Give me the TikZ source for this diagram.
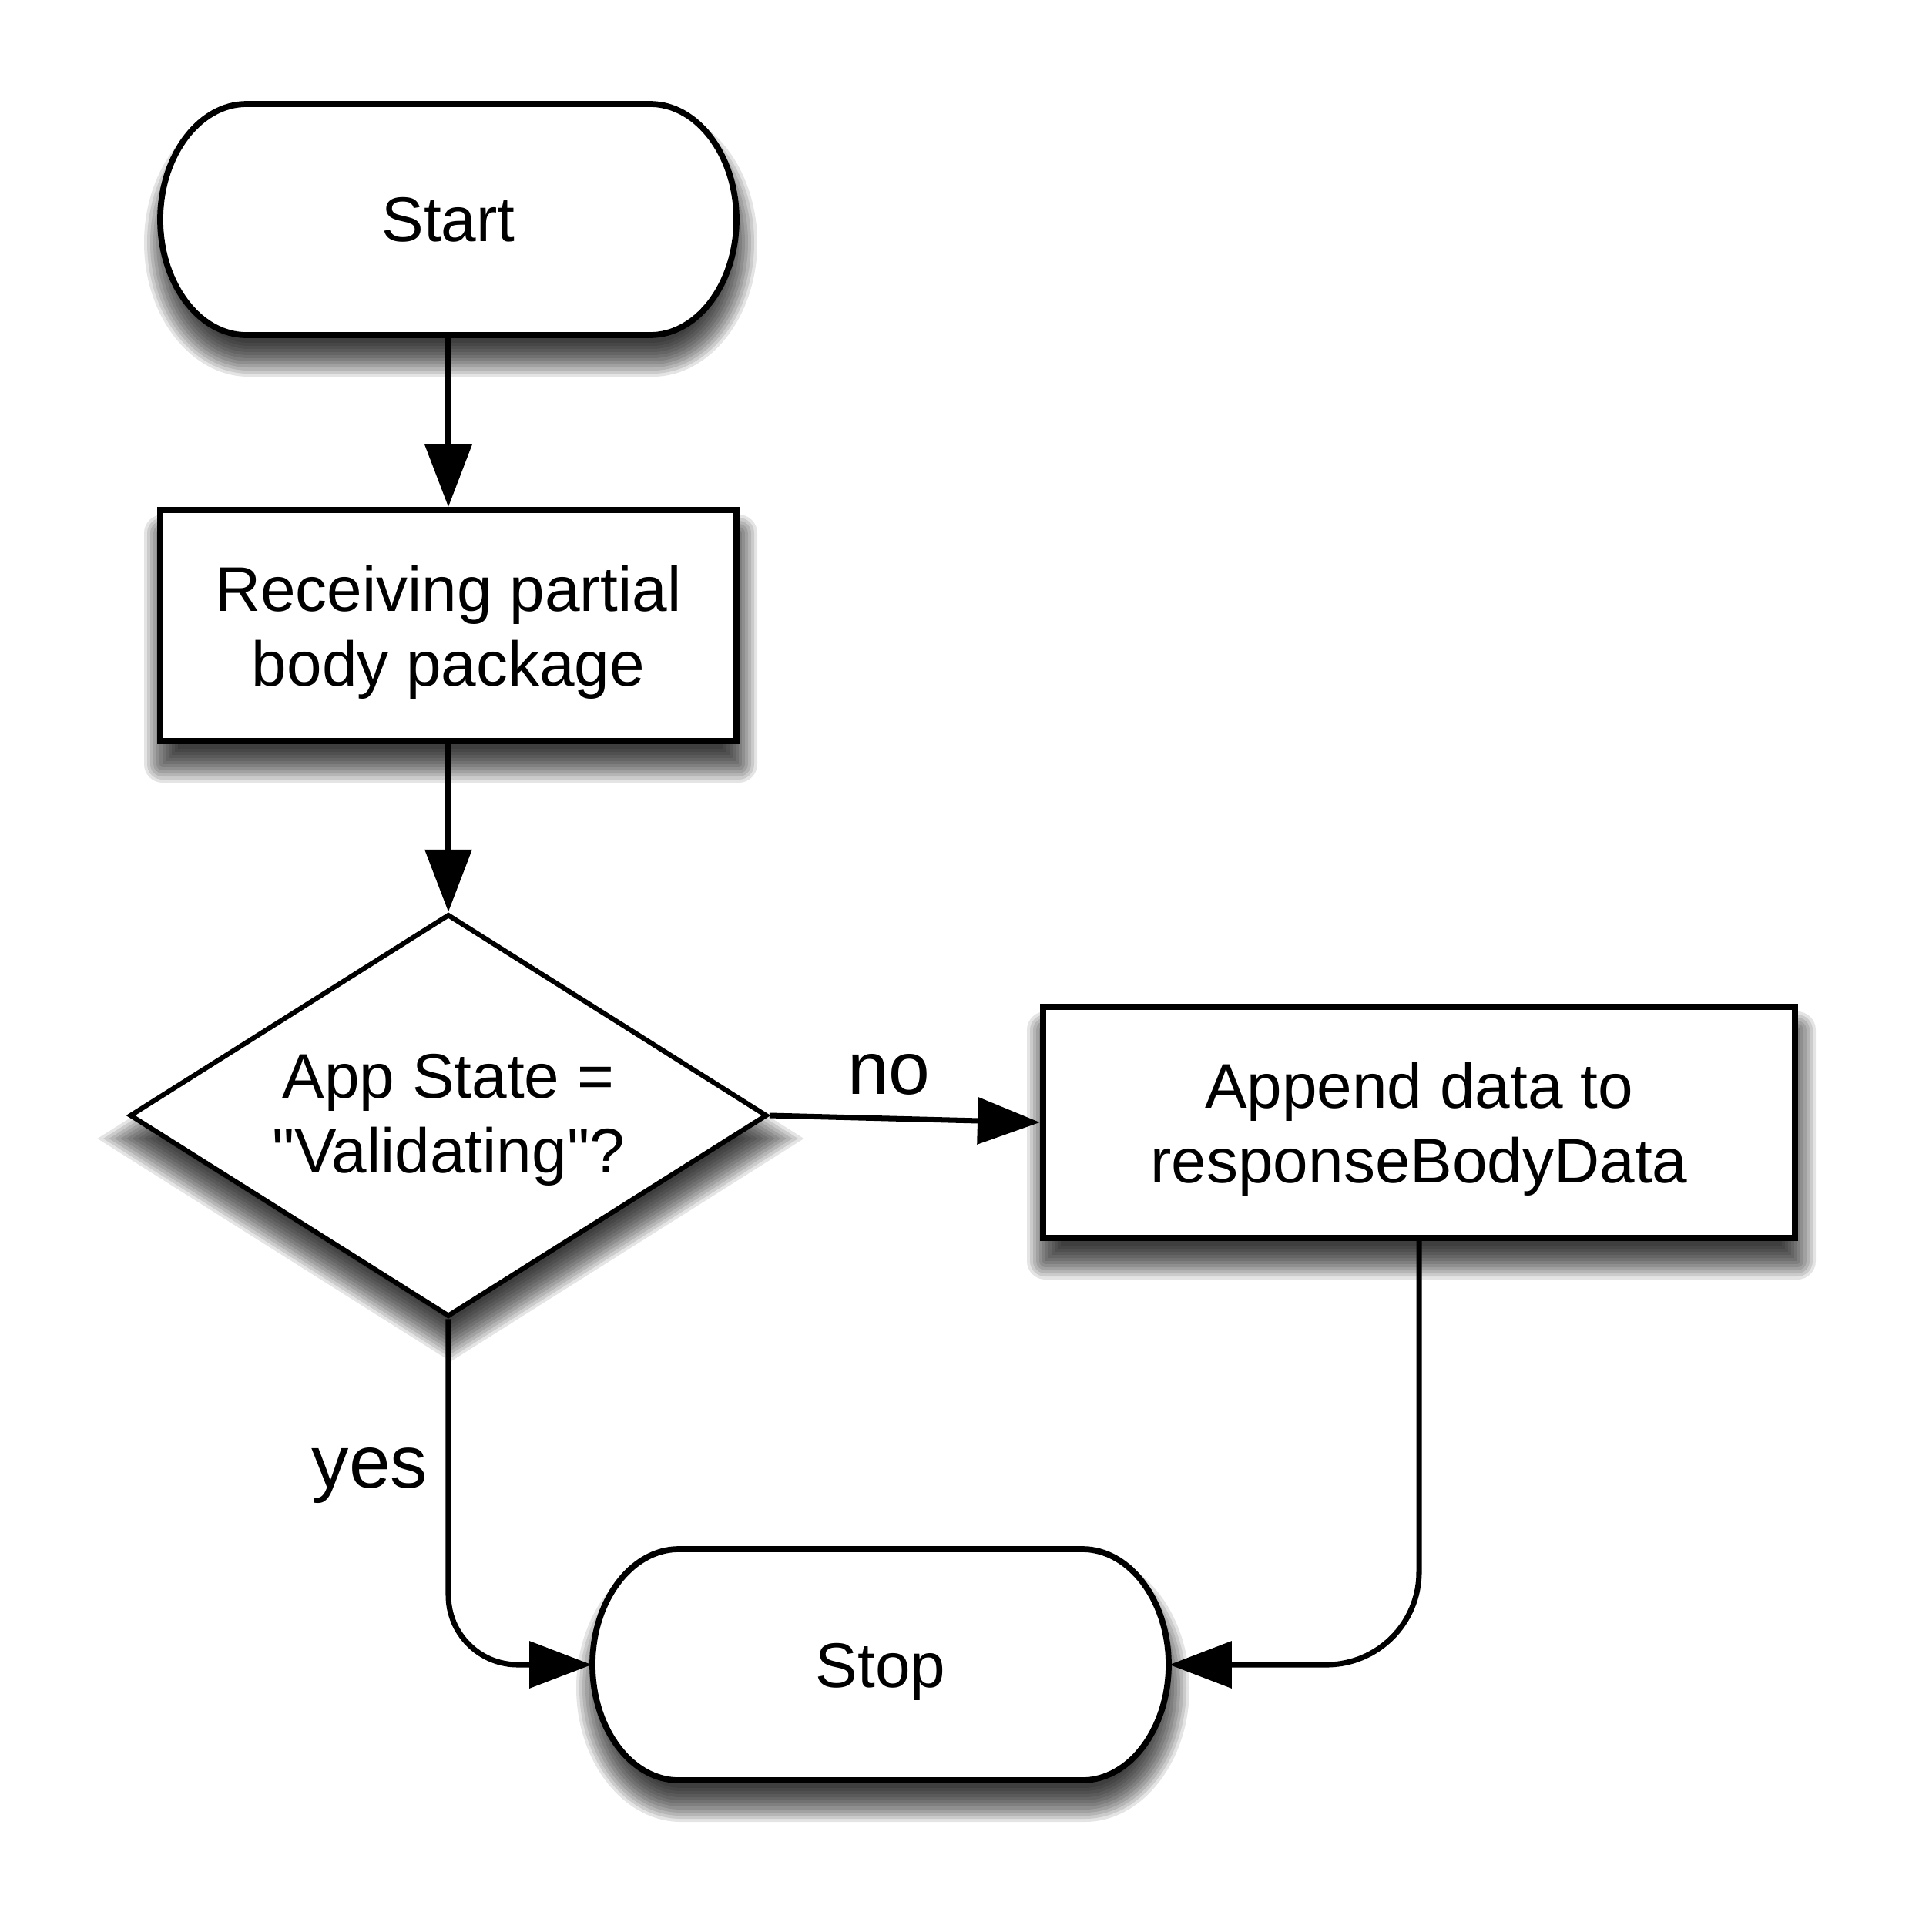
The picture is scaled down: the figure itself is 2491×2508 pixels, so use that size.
\documentclass[tikz,border=0pt]{standalone}
\usepackage{fontspec}
\setmainfont{Liberation Sans}[Ligatures=TeXOff]
\usetikzlibrary{arrows.meta,shapes.geometric}

\newcommand\tstrut[1]{\rule{0pt}{#1}}
% terminal outline: centre x, centre y, outset, path options
\newcommand\termdraw[4]{%
  \path[#4] ({#1-262},{#2-150-(#3)}) -- ({#1+262},{#2-150-(#3)})
    .. controls ({#1+262+0.55*(112+(#3))},{#2-150-(#3)}) and ({#1+374+(#3)},{#2-0.55*(150+(#3))}) .. ({#1+374+(#3)},{#2})
    .. controls ({#1+374+(#3)},{#2+0.55*(150+(#3))}) and ({#1+262+0.55*(112+(#3))},{#2+150+(#3)}) .. ({#1+262},{#2+150+(#3)})
    -- ({#1-262},{#2+150+(#3)})
    .. controls ({#1-262-0.55*(112+(#3))},{#2+150+(#3)}) and ({#1-374-(#3)},{#2+0.55*(150+(#3))}) .. ({#1-374-(#3)},{#2})
    .. controls ({#1-374-(#3)},{#2-0.55*(150+(#3))}) and ({#1-262-0.55*(112+(#3))},{#2-150-(#3)}) .. cycle;}
% soft shadows
\newcommand\termshadow[2]{\foreach \e in {-20,-16,...,24}{\termdraw{#1+3}{#2+30}{\e}{shadowfill}}}
\newcommand\boxshadow[4]{\foreach \e in {-20,-16,...,24}{%
  \pgfmathsetmacro\rc{max(\e,0.5)*0.01}%
  \fill[shadowfill, rounded corners=\rc cm] ({#1+3-#3-(\e)},{#2+30-#4-(\e)}) rectangle ({#1+3+#3+(\e)},{#2+30+#4+(\e)});}}
\newcommand\diamondshadow[4]{\foreach \e in {-20,-16,...,24}{%
  \fill[shadowfill] ({#1+3-#3-1.874*(\e)},{#2+30}) -- ({#1+3},{#2+30-#4-1.183*(\e)}) -- ({#1+3+#3+1.874*(\e)},{#2+30}) -- ({#1+3},{#2+30+#4+1.183*(\e)}) -- cycle;}}

\begin{document}
\begin{tikzpicture}[x=0.01cm,y=-0.01cm,
  shadowfill/.style={fill=black, fill opacity=0.105, draw=none},
  txt/.style={font=\fontsize{23.3}{27.5}\selectfont, align=center},
  lbl/.style={font=\fontsize{27.5}{32}\selectfont, inner sep=0},
  termline/.style={draw, line width=2.2pt, fill=white},
  termnode/.style={txt, minimum width=7.48cm, minimum height=3cm, inner sep=0},
  procbox/.style={draw, line width=2.2pt, fill=white, txt, minimum height=3cm, inner sep=0},
  decision/.style={diamond, draw, line width=1.8pt, fill=white, txt, aspect=1.58, minimum width=8.27cm, minimum height=5.22cm, inner sep=0},
  conn/.style={draw=black, line width=2pt, -{Triangle[length=23pt, width=17pt, fill=black, color=black]}}
]
\path[use as bounding box, fill=white] (0,0) rectangle (2491,2508);

% shadows
\termshadow{582}{285}
\boxshadow{582}{812}{374}{150}
\diamondshadow{582}{1448}{413.5}{261}
\boxshadow{1842}{1457}{488}{150}
\termshadow{1143}{2161}

% shapes
\termdraw{582}{285}{0}{termline}
\node[termnode] (start) at (582,285) {Start};

\node[procbox, minimum width=7.48cm] (rec) at (582,812) {\tstrut{21.7pt}Receiving partial\\body package};

\node[decision] (dec) at (582,1448) {\tstrut{19.5pt}App State =\\"Validating"?};

\node[procbox, minimum width=9.76cm] (app) at (1842,1457) {\tstrut{21.7pt}Append data to\\responseBodyData};

\termdraw{1143}{2161}{0}{termline}
\node[termnode] (stop) at (1143,2161) {\tstrut{21.8pt}Stop};

% connectors
\draw[conn] (start.south) -- (rec.north);
\draw[conn] (rec.south) -- (dec.north);
\draw[conn] (dec.east) -- (app.west);
\draw[conn, rounded corners=0.9cm] (dec.south) |- (stop.west);
\draw[conn, rounded corners=1.2cm] (app.south) |- (stop.east);

\node[lbl] (nolbl) at (1154,1395) {no};
\node[lbl] (yeslbl) at (480,1915) {yes};
\end{tikzpicture}
\end{document}
